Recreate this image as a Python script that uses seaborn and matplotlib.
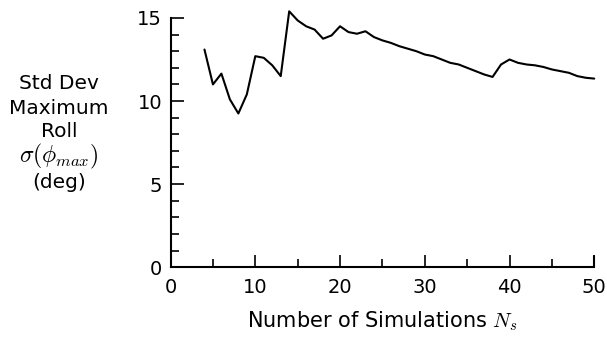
import numpy as np
import pandas as pd
import matplotlib
matplotlib.use("Agg")
import matplotlib.pyplot as plt
from matplotlib.ticker import MultipleLocator
import seaborn as sns

# Number of simulations and std dev of maximum roll (deg)
n_sims = [4, 5, 6, 7, 8, 9, 10, 11, 12, 13, 14, 15, 16, 17, 18, 19, 20, 21, 22, 23,
          24, 25, 26, 27, 28, 29, 30, 31, 32, 33, 34, 35, 36, 37, 38, 39, 40, 41, 42,
          43, 44, 45, 46, 47, 48, 49, 50]
std_roll = [13.1, 11.0, 11.65, 10.1, 9.25, 10.4, 12.7, 12.6, 12.15, 11.5, 15.4, 14.85,
            14.5, 14.3, 13.75, 13.95, 14.5, 14.15, 14.05, 14.2, 13.85, 13.65, 13.5, 13.3,
            13.15, 13.0, 12.8, 12.7, 12.5, 12.3, 12.2, 12.0, 11.8, 11.6, 11.45, 12.2,
            12.5, 12.3, 12.2, 12.15, 12.05, 11.9, 11.8, 11.7, 11.5, 11.4, 11.35]

x_ticks = [0, 10, 20, 30, 40, 50]
y_ticks = [0, 5, 10, 15]
ylabel_lines = ["Std Dev", "Maximum", "Roll", r"$\sigma(\phi_{max})$", "(deg)"]

df = pd.DataFrame({"Ns": n_sims, "sigma": std_roll})

sns.set_style("ticks")
plt.rcParams["font.family"] = ["DejaVu Sans"]
plt.rcParams["mathtext.fontset"] = "cm"
plt.rcParams["text.color"] = "black"
plt.rcParams["axes.labelcolor"] = "black"

W, H = 607, 339
fig = plt.figure(figsize=(W / 100, H / 100), dpi=100)
ax = fig.add_axes([0.281, 0.212, 0.698, 0.735])

sns.lineplot(data=df, x="Ns", y="sigma", ax=ax, color="black", linewidth=1.5)
for ln in ax.lines:
    ln.set_clip_on(False)

ax.set_xlim(0, 50)
ax.set_ylim(0, 15)
ax.set_xticks(x_ticks)
ax.set_yticks(y_ticks)
ax.xaxis.set_minor_locator(MultipleLocator(5))
ax.yaxis.set_minor_locator(MultipleLocator(1))
ax.tick_params(axis="both", which="major", direction="in", length=9, width=1.2,
               labelsize=14, colors="black", labelcolor="black")
ax.tick_params(axis="both", which="minor", direction="in", length=5.5, width=1.2,
               colors="black")
ax.tick_params(axis="x", which="major", pad=8)
ax.tick_params(axis="y", which="major", pad=6)

sns.despine(ax=ax)
for side in ("left", "bottom"):
    ax.spines[side].set_linewidth(1.5)
    ax.spines[side].set_color("black")

# Right-end tick at 50
ax.plot([50, 50], [0, 0.65], color="black", lw=1.5, clip_on=False)

ax.set_xlabel(r"Number of Simulations $N_s$", fontsize=15, labelpad=9, color="black")
ax.set_ylabel("")

# Stacked y-axis caption, one line at a time
line_y_px = [84, 108, 132, 156, 183]
for text, ypx in zip(ylabel_lines, line_y_px):
    size = 17 if text.startswith("$") else 14.5
    fig.text(59 / W, 1 - ypx / H, text, ha="center", va="center",
             fontsize=size, color="black")

fig.savefig("out.png", dpi=100)
